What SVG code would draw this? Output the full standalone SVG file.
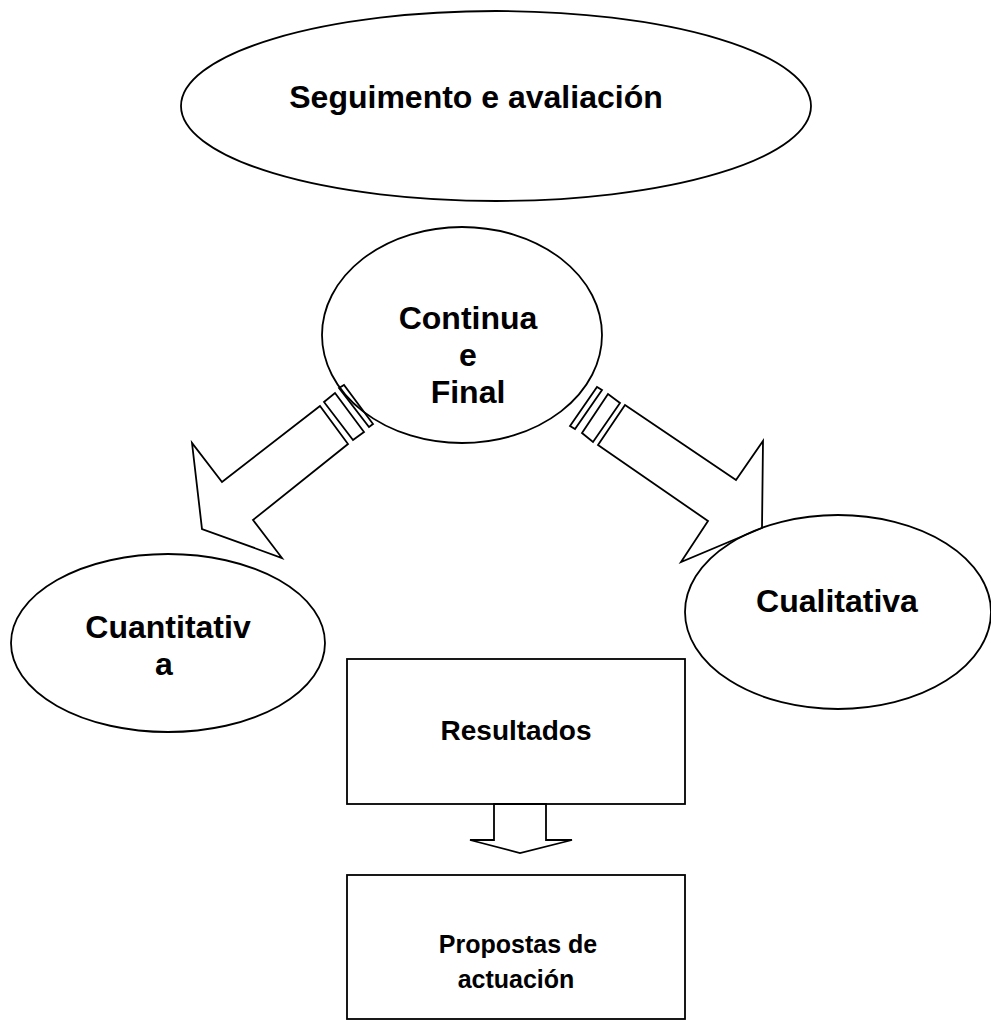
<svg xmlns="http://www.w3.org/2000/svg" width="991" height="1021" viewBox="0 0 991 1021">
<style>
.s{fill:none;stroke:#000;stroke-width:1.8;stroke-linejoin:miter}
.t{font-family:"Liberation Sans",Arial,sans-serif;font-weight:bold;fill:#000;text-anchor:middle}
.big{font-size:32px}
.box{font-size:25px}
.res{font-size:28px}
</style>
<rect width="991" height="1021" fill="#fff"/>
<g id="seguimento">
<ellipse class="s" cx="496" cy="106" rx="315" ry="95"/>
<text class="t big" x="476" y="108">Seguimento e avaliación</text>
</g>
<g id="continua">
<ellipse class="s" cx="462" cy="335" rx="140" ry="108"/>
<text class="t big" x="468" y="329">Continua</text>
<text class="t big" x="468" y="366">e</text>
<text class="t big" x="468" y="403">Final</text>
</g>
<g id="cuantitativa">
<ellipse class="s" cx="168" cy="643" rx="157" ry="89"/>
<text class="t big" x="168" y="638">Cuantitativ</text>
<text class="t big" x="164" y="675">a</text>
</g>
<g id="cualitativa">
<ellipse class="s" cx="838" cy="612" rx="153" ry="97"/>
<text class="t big" x="837" y="612">Cualitativa</text>
</g>
<g id="resultados">
<rect class="s" x="347" y="659" width="338" height="145"/>
<text class="t res" x="516" y="740">Resultados</text>
</g>
<g id="propostas">
<rect class="s" x="347" y="875" width="338" height="144"/>
<text class="t box" x="518" y="953">Propostas de</text>
<text class="t box" x="516" y="988">actuación</text>
</g>
<g id="connectors">
<polygon class="s" points="320,406 222,482 192,443 202,529 282,558 253,520 348,444"/>
<polygon class="s" points="324,402 335,393 364,432 353,440"/>
<polygon class="s" points="339,388 344,385 373,424 369,427"/>
<polygon class="s" points="625,405 736,480 763,441 762,528 681,562 708,521 598,445"/>
<polygon class="s" points="570,426 597,387 602,390 575,429"/>
<polygon class="s" points="582,433 608,394 620,403 593,442"/>
<polygon class="s" points="494,804 546,804 546,840 572,840 520,853 470,840 494,840"/>
</g>
</svg>
